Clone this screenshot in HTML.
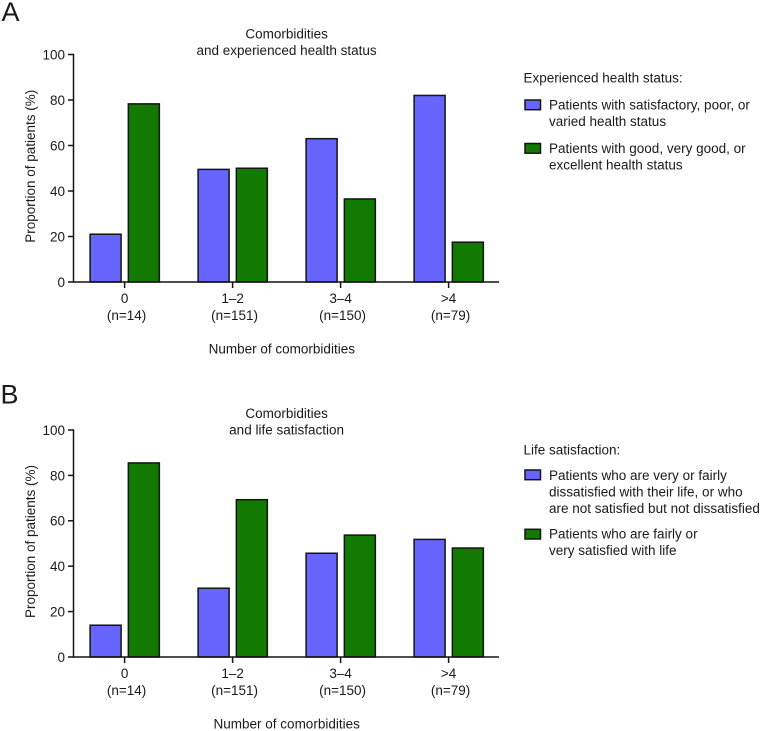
<!DOCTYPE html>
<html lang="en">
<head>
<meta charset="utf-8">
<title>Comorbidities charts</title>
<style>
html,body{margin:0;padding:0;background:#fff;}
svg{display:block;}
text{font-family:"Liberation Sans",Arial,sans-serif;font-size:13.5px;fill:#1a1a1a;}
</style>
</head>
<body>
<svg id="chart" width="760" height="731" viewBox="0 0 760 731" xmlns="http://www.w3.org/2000/svg"></svg>
<script>
const categories = ['0', '1–2', '3–4', '>4'];
const sampleSizes = ['(n=14)', '(n=151)', '(n=150)', '(n=79)'];
const yTicks = [0, 20, 40, 60, 80, 100];
const healthPoorValues = [21, 49.5, 63, 82];
const healthGoodValues = [78.3, 50, 36.5, 17.5];
const lifeDissatisfiedValues = [14, 30.3, 45.7, 51.8];
const lifeSatisfiedValues = [85.5, 69.3, 53.7, 48];

const NS = 'http://www.w3.org/2000/svg';
const svg = document.getElementById('chart');
const BLUE = '#6666ff';
const GREEN = '#127a00';
const INK = '#141414';

function add(parent, tag, attrs, text) {
  const el = document.createElementNS(NS, tag);
  for (const k in attrs) el.setAttribute(k, attrs[k]);
  if (text !== undefined) el.textContent = text;
  parent.appendChild(el);
  return el;
}

function drawPanel(cfg) {
  const g = add(svg, 'g', {});
  
  
  const yScale = v => cfg.y0 - (v / 100) * (cfg.y0 - cfg.y100);
  const xCenter = i => 124.6 + i * 108;

  const letter = add(g, 'text', {x: cfg.letterX, y: cfg.letterY, style: 'font-size:27px'}, cfg.letter);
  
  

  cfg.title.forEach((line, i) => {
    const t = add(g, 'text', {x: 286.6, y: cfg.titleY + i * 16.5, 'text-anchor': 'middle'}, line);
    
    
  });

  cfg.series.forEach((s, si) => {
    s.values.forEach((v, i) => {
      const left = xCenter(i) + (si === 0 ? -34.5 : 3.75);
      const r = add(g, 'rect', {
        x: left, y: yScale(v), width: 31, height: cfg.y0 - yScale(v),
        fill: s.color, stroke: INK, 'stroke-width': 1.5
      });
      
      
    });
  });

  const yAxis = add(g, 'line', {x1: 73.5, x2: 73.5, y1: cfg.y100 - 0.75, y2: cfg.y0 + 0.75, stroke: INK, 'stroke-width': 1.5});
  
  
  const xAxis = add(g, 'line', {x1: 73.5, x2: 499, y1: cfg.y0, y2: cfg.y0, stroke: INK, 'stroke-width': 1.5});
  
  

  yTicks.forEach(v => {
    const tk = add(g, 'line', {x1: 68, x2: 73.5, y1: yScale(v), y2: yScale(v), stroke: INK, 'stroke-width': 1.5});
    
    
    const lb = add(g, 'text', {x: 65, y: yScale(v) + 4.9}, v);
    lb.setAttribute('text-anchor', 'end');
    
    
  });

  categories.forEach((c, i) => {
    const tk = add(g, 'line', {x1: xCenter(i), x2: xCenter(i), y1: cfg.y0, y2: cfg.y0 + 6, stroke: INK, 'stroke-width': 1.5});
    
    
    const lb = add(g, 'text', {x: xCenter(i), y: cfg.y0 + 21, 'text-anchor': 'middle'}, c);
    
    
    const n = add(g, 'text', {x: xCenter(i) + 2, y: cfg.y0 + 38, 'text-anchor': 'middle'}, sampleSizes[i]);
    
    
  });

  const xt = add(g, 'text', {x: cfg.xTitleX, y: cfg.y0 + 71.5, 'text-anchor': 'middle'}, 'Number of comorbidities');
  
  
  const yMid = (cfg.y0 + cfg.y100) / 2 - 2;
  const yt = add(g, 'text', {x: 35, y: yMid, 'text-anchor': 'middle', transform: 'rotate(-90 35 ' + yMid + ')'}, 'Proportion of patients (%)');
  
  

  const lt = add(g, 'text', {x: 523.5, y: cfg.legendY}, cfg.legendTitle);
  
  
  cfg.series.forEach(s => {
    const sw = add(g, 'rect', {x: 525, y: s.swatchY, width: 15.5, height: 9.7, fill: s.color, stroke: INK, 'stroke-width': 1.5});
    
    
    s.label.forEach((line, i) => {
      const t = add(g, 'text', {x: 549, y: s.labelY + i * 16.5}, line);
      
      
    });
  });
}

drawPanel({
  id: 'panel-a', letter: 'A', letterX: 1.5, letterY: 21, y0: 282, y100: 54.5, titleY: 38.5, xTitleX: 281.8,
  title: ['Comorbidities', 'and experienced health status'],
  legendY: 82.7, legendTitle: 'Experienced health status:',
  series: [
    {key: 'poor', color: BLUE, values: healthPoorValues, swatchY: 100, labelY: 109.5,
      label: ['Patients with satisfactory, poor, or', 'varied health status']},
    {key: 'good', color: GREEN, values: healthGoodValues, swatchY: 143.5, labelY: 153,
      label: ['Patients with good, very good, or', 'excellent health status']}
  ]
});
drawPanel({
  id: 'panel-b', letter: 'B', letterX: 0.5, letterY: 403.5, y0: 657, y100: 430, titleY: 418, xTitleX: 286.7,
  title: ['Comorbidities', 'and life satisfaction'],
  legendY: 454.5, legendTitle: 'Life satisfaction:',
  series: [
    {key: 'dissatisfied', color: BLUE, values: lifeDissatisfiedValues, swatchY: 470, labelY: 480,
      label: ['Patients who are very or fairly', 'dissatisfied with their life, or who', 'are not satisfied but not dissatisfied']},
    {key: 'satisfied', color: GREEN, values: lifeSatisfiedValues, swatchY: 529.3, labelY: 538.5,
      label: ['Patients who are fairly or', 'very satisfied with life']}
  ]
});
</script>
</body>
</html>
